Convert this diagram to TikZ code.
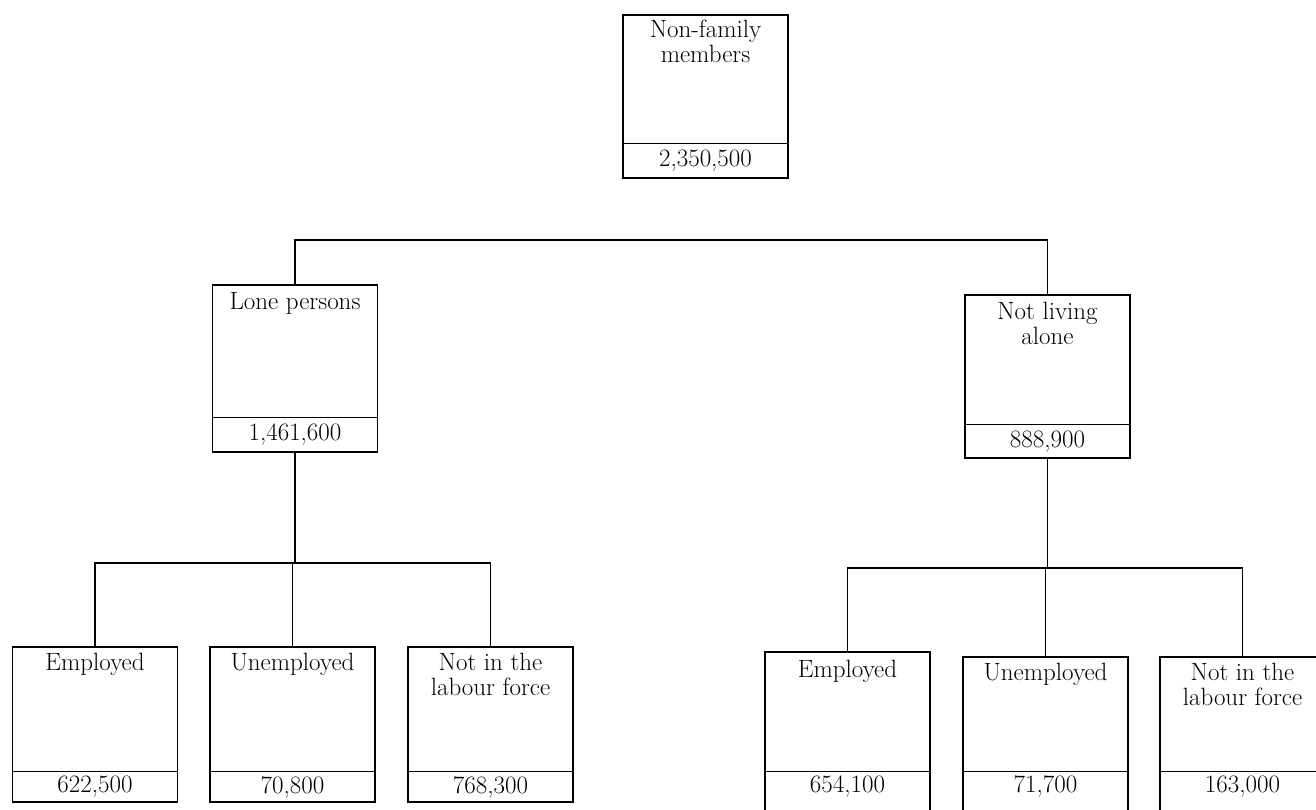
\documentclass[tikz,border=0pt]{standalone}
\usepackage{tikz}
\usetikzlibrary{calc}

\begin{document}
\begin{tikzpicture}[x=1pt,y=-1pt,line width=1.1pt,
    box/.style={draw,minimum width=165pt,inner sep=0pt},
    lbl/.style={anchor=north,align=center,inner sep=0pt,font=\fontsize{25}{25}\selectfont},
    num/.style={inner sep=0pt,font=\fontsize{25}{25}\selectfont}]
          \useasboundingbox (0,0) rectangle (1316,809);
          % top level
          \node[box,minimum height=163pt] (NF) at (705.5,96.5) {};
          \node[lbl] (NFl) at ($(NF.north)+(0,5)$) {Non-family\\members};
          \draw ($(NF.south west)+(0,-35)$) -- ($(NF.south east)+(0,-35)$);
          \node[num] (NFn) at ($(NF.south)+(0,-17.5)$) {2,350,500};
          % second level
          \node[box,minimum height=167pt] (LP) at (295,368.5) {};
          \node[lbl] (LPl) at ($(LP.north)+(0,7)$) {Lone persons};
          \draw ($(LP.south west)+(0,-35)$) -- ($(LP.south east)+(0,-35)$);
          \node[num] (LPn) at ($(LP.south)+(0,-17.5)$) {1,461,600};
          \node[box,minimum height=163pt] (NL) at (1047.5,376.5) {};
          \node[lbl] (NLl) at ($(NL.north)+(0,7)$) {Not living\\alone};
          \draw ($(NL.south west)+(0,-34)$) -- ($(NL.south east)+(0,-34)$);
          \node[num] (NLn) at ($(NL.south)+(0,-17)$) {888,900};
          % third level, lone persons
          \node[box,minimum height=155pt] (LEm) at (95,724.5) {};
          \node[lbl] (LEml) at ($(LEm.north)+(0,6)$) {Employed};
          \draw ($(LEm.south west)+(0,-31)$) -- ($(LEm.south east)+(0,-31)$);
          \node[num] (LEmn) at ($(LEm.south)+(0,-15.5)$) {622,500};
          \node[box,minimum height=155pt] (LUn) at (292.5,724.5) {};
          \node[lbl] (LUnl) at ($(LUn.north)+(0,6)$) {Unemployed};
          \draw ($(LUn.south west)+(0,-31)$) -- ($(LUn.south east)+(0,-31)$);
          \node[num] (LUnn) at ($(LUn.south)+(0,-15.5)$) {70,800};
          \node[box,minimum height=155pt] (LNo) at (490.5,724.5) {};
          \node[lbl] (LNol) at ($(LNo.north)+(0,6)$) {Not in the\\labour force};
          \draw ($(LNo.south west)+(0,-31)$) -- ($(LNo.south east)+(0,-31)$);
          \node[num] (LNon) at ($(LNo.south)+(0,-15.5)$) {768,300};
          % third level, not living alone
          \node[box,minimum height=160pt] (REm) at (847.5,732) {};
          \node[lbl] (REml) at ($(REm.north)+(0,8)$) {Employed};
          \draw ($(REm.south west)+(0,-41)$) -- ($(REm.south east)+(0,-41)$);
          \node[num] (REmn) at ($(REm.south)+(0,-26)$) {654,100};
          \node[box,minimum height=155pt] (RUn) at (1045.5,734.5) {};
          \node[lbl] (RUnl) at ($(RUn.north)+(0,6)$) {Unemployed};
          \draw ($(RUn.south west)+(0,-41)$) -- ($(RUn.south east)+(0,-41)$);
          \node[num] (RUnn) at ($(RUn.south)+(0,-26)$) {71,700};
          \node[box,minimum height=155pt] (RNo) at (1242.5,734.5) {};
          \node[lbl] (RNol) at ($(RNo.north)+(0,6)$) {Not in the\\labour force};
          \draw ($(RNo.south west)+(0,-41)$) -- ($(RNo.south east)+(0,-41)$);
          \node[num] (RNon) at ($(RNo.south)+(0,-26)$) {163,000};
          % connectors
          \coordinate (B1) at (0,240);
          \draw (LP.north) -- (LP.north |- B1) -- (NL.north |- B1) -- (NL.north);
          \coordinate (B2) at (0,563);
          \draw (LP.south) -- (LP.south |- B2);
          \draw (LEm.north) -- (LEm.north |- B2) -- (LNo.north |- B2) -- (LNo.north);
          \draw (LUn.north) -- (LUn.north |- B2);
          \coordinate (B3) at (0,568);
          \draw (NL.south) -- (NL.south |- B3);
          \draw (REm.north) -- (REm.north |- B3) -- (RNo.north |- B3) -- (RNo.north);
          \draw (RUn.north) -- (RUn.north |- B3);
        \end{tikzpicture}
\end{document}
